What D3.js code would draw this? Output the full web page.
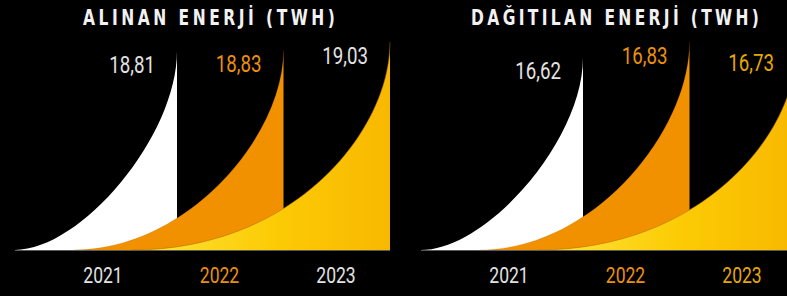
<!DOCTYPE html>
<html>
<head>
<meta charset="utf-8">
<script src="https://cdn.jsdelivr.net/npm/d3@7"></script>
<style>
  body { margin: 0; background: #000; }
  svg { display: block; }
  .title { font-family: "DejaVu Sans Condensed", "DejaVu Sans", sans-serif; font-weight: bold; font-size: 21px; fill: #f2f2f2; }
  .value, .year { font-family: Roboto, "Noto Sans", sans-serif; font-weight: 400; }
  .value { font-size: 24px; }
  .year { font-size: 22.5px; }
</style>
</head>
<body>
<div id="chart"></div>
<script>
var width = 787,
    height = 296;

var years = ["2021", "2022", "2023"];
var alinan = [18.81, 18.83, 19.03];
var dagitilan = [16.62, 16.83, 16.73];
var titles = ["ALINAN ENERJİ (TWH)", "DAĞITILAN ENERJİ (TWH)"];

var svg = d3.select("#chart")
    .append("svg")
    .attr("width", width)
    .attr("height", height)
    .style("background", "#000");

var defs = svg.append("defs");
var grad = defs.append("linearGradient")
    .attr("id", "yellowGrad")
    .attr("x1", "0%").attr("x2", "100%")
    .attr("y1", "0%").attr("y2", "0%");
grad.append("stop").attr("offset", "0%").attr("stop-color", "#fde53a");
grad.append("stop").attr("offset", "55%").attr("stop-color", "#fccb05");
grad.append("stop").attr("offset", "100%").attr("stop-color", "#f8b800");

var baseY = 250,
    topY = 42,
    panelOffset = 406,
    squeeze = 0.78,      // the original type is a condensed face
    titleSqueeze = 0.82;

var fills = ["#ffffff", "#f29100", "url(#yellowGrad)"];
var labelColors = [["#e2e2e2", "#ec900c", "#e2e2e2"], ["#e2e2e2", "#ec900c", "#e6a800"]];

var locale = d3.formatLocale({decimal: ",", thousands: ".", grouping: [3], currency: ["", ""]});
var fmt = locale.format(".2f");

function drawPanel(g, values, title, colors, titleWidth) {
  var x = d3.scalePoint()
      .domain(years)
      .range([177, 390]);

  var xLabel = d3.scalePoint()
      .domain(years)
      .range([103, 336]);

  var y = d3.scaleLinear()
      .domain([14, d3.max(values)])
      .range([baseY, topY]);

  var data = years.map(function(yr, i) {
    return {year: yr, value: values[i], i: i};
  });

  // sail shape: long flat tail on the left, almost vertical at the right edge
  function curve(p, d) {
    var right = x(d.year),
        left = right - (162 + 48 * d.i),
        top = y(d.value),
        h = baseY - top;
    p.moveTo(left, baseY);
    p.bezierCurveTo(right - 96, baseY, right, baseY - 0.57 * h, right, top);
    return right;
  }

  function sail(d) {
    var p = d3.path();
    var right = curve(p, d);
    p.lineTo(right, baseY);
    p.closePath();
    return p.toString();
  }

  function edge(d) {
    var p = d3.path();
    curve(p, d);
    return p.toString();
  }

  g.append("line")
      .attr("x1", x(years[0]) - 162)
      .attr("x2", x(years[2]))
      .attr("y1", baseY + 0.5)
      .attr("y2", baseY + 0.5)
      .attr("stroke", "#5a5a5a")
      .attr("stroke-width", 1);

  g.selectAll(".sail")
      .data(data)
      .enter().append("path")
      .attr("class", "sail")
      .attr("d", sail)
      .attr("fill", function(d) { return fills[d.i]; });

  g.selectAll(".edge")
      .data(data.filter(function(d) { return d.i > 0; }))
      .enter().append("path")
      .attr("class", "edge")
      .attr("d", edge)
      .attr("fill", "none")
      .attr("stroke", "#a85f00")
      .attr("stroke-opacity", function(d) { return d.i == 2 ? 0.6 : 0.25; })
      .attr("stroke-width", 0.8);

  g.selectAll(".value")
      .data(data)
      .enter().append("text")
      .attr("class", "value")
      .attr("transform", function(d) {
        return "translate(" + (x(d.year) - 22) + "," + (y(d.value) + 22) + ") scale(" + squeeze + ",1)";
      })
      .attr("text-anchor", "end")
      .attr("fill", function(d) { return colors[d.i]; })
      .text(function(d) { return fmt(d.value); });

  g.selectAll(".year")
      .data(data)
      .enter().append("text")
      .attr("class", "year")
      .attr("transform", function(d) {
        return "translate(" + xLabel(d.year) + ",283) scale(" + squeeze + ",1)";
      })
      .attr("text-anchor", "middle")
      .attr("fill", function(d) { return colors[d.i]; })
      .text(function(d) { return d.year; });

  var t = g.append("text")
      .attr("class", "title")
      .attr("text-anchor", "middle")
      .text(title);

  // narrow letters, spread apart until the title is as wide as in the original
  var natural = t.node().getComputedTextLength();
  var spacing = (titleWidth / titleSqueeze - natural) / (title.length - 1);
  t.style("letter-spacing", spacing + "px")
   .attr("x", spacing / 2)
   .attr("transform", "translate(209,25) scale(" + titleSqueeze + ",1)");
}

drawPanel(svg.append("g"), alinan, titles[0], labelColors[0], 252);
drawPanel(svg.append("g").attr("transform", "translate(" + panelOffset + ",0)"), dagitilan, titles[1], labelColors[1], 288);
</script>
</body>
</html>
